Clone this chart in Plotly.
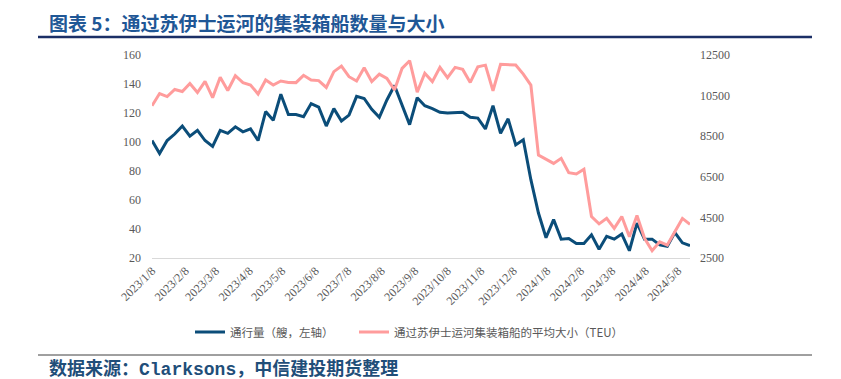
import pandas as pd
import plotly.graph_objects as go

# ---------------- data ----------------
WEEK_START = "2023-01-08"          # weekly observations (Sundays)
TRANSITS = [101, 92, 101, 105.5, 111, 104, 108, 101, 97, 108, 106, 110.5, 107, 109, 101, 121, 115, 133,
            119, 119, 117.5, 126.5, 124, 111, 123, 114.5, 118.5, 131.5, 130, 122.5, 117, 129, 139, 125, 112, 130.5,
            125, 123, 120.5, 120, 120, 120.5, 117, 116.5, 109, 125, 106, 116, 98, 101.5, 74, 51, 34, 46.5,
            33, 33.5, 30, 30, 36, 26, 35, 33, 36.5, 25, 44, 33, 33, 29, 28, 37.5, 30.5, 28.5]
AVG_TEU = [10000, 10600, 10450, 10800, 10700, 11100, 10650, 11200, 10400, 11400, 10750, 11480, 11140, 11020,
           10580, 11270, 11020, 11220,
           11150, 11140, 11500, 11270, 11240, 10900, 11680, 11950, 11430, 11220, 11870, 11190, 11560, 11350,
           10780, 11840, 12220, 10670,
           11600, 11190, 11890, 11380, 11890, 11790, 11150, 11920, 12000, 10740, 12040, 12010, 12010, 11560,
           11020, 7570, 7360, 7160,
           7410, 6700, 6640, 6870, 4540, 4180, 4450, 3960, 4540, 3550, 4590, 3470, 2860, 3300, 3140, 3800,
           4450, 4160]
X_TICK_LABELS = ["2023/1/8", "2023/2/8", "2023/3/8", "2023/4/8", "2023/5/8", "2023/6/8", "2023/7/8",
                 "2023/8/8", "2023/9/8", "2023/10/8", "2023/11/8", "2023/12/8", "2024/1/8", "2024/2/8",
                 "2024/3/8", "2024/4/8", "2024/5/8"]
LEFT_TICKS = [20, 40, 60, 80, 100, 120, 140, 160]
RIGHT_TICKS = [2500, 4500, 6500, 8500, 10500, 12500]

NAME_TRANSITS = "通行量（艘，左轴）"
NAME_TEU = "通过苏伊士运河集装箱船的平均大小（TEU）"
TITLE = "图表 5：通过苏伊士运河的集装箱船数量与大小"
SOURCE = "数据来源：Clarksons，中信建投期货整理"

dates = pd.date_range(WEEK_START, periods=len(TRANSITS), freq="7D")
tickvals = pd.to_datetime(X_TICK_LABELS, format="%Y/%m/%d")

BLUE = "#0B4D79"
PINK = "#FF9C9C"
GRAY = "#595959"
TICK_FONT = dict(family="Liberation Serif, Times New Roman, serif", size=12, color=GRAY)

W, H = 841, 379
ML, MR, MT, MB = 152, W - 690, 55, H - 258
PW, PH = W - ML - MR, H - MT - MB


def px(xs):   # screen x -> paper x
    return (xs - ML) / PW


def py(ys):   # screen y -> paper y
    return (H - MB - ys) / PH


fig = go.Figure()
fig.add_trace(go.Scatter(x=dates, y=TRANSITS, name=NAME_TRANSITS, mode="lines",
                         line=dict(color=BLUE, width=3), yaxis="y", legend="legend"))
fig.add_trace(go.Scatter(x=dates, y=AVG_TEU, name=NAME_TEU, mode="lines",
                         line=dict(color=PINK, width=3), yaxis="y2", legend="legend2"))

LEG_FONT = dict(family="Noto Sans CJK SC", size=11.5, color=GRAY)
leg_common = dict(orientation="h", xref="paper", yref="paper", xanchor="left",
                  yanchor="middle", y=py(332), font=LEG_FONT, itemwidth=30,
                  bgcolor="rgba(0,0,0,0)")

fig.update_layout(
    width=W, height=H,
    margin=dict(l=ML, r=MR, t=MT, b=MB, autoexpand=False),
    paper_bgcolor="white", plot_bgcolor="white",
    showlegend=True,
    legend=dict(x=px(190), **leg_common),
    legend2=dict(x=px(354), **leg_common),
    xaxis=dict(type="date", range=[dates[0], dates[-1]], tickvals=tickvals, ticktext=X_TICK_LABELS,
               tickangle=-45, tickfont=TICK_FONT, showgrid=False, zeroline=False, automargin=False,
               showline=True, linecolor="#D9D9D9", linewidth=1, ticks=""),
    yaxis=dict(range=[20, 160], tickvals=LEFT_TICKS, tickfont=TICK_FONT, showgrid=False, automargin=False,
               zeroline=False, showline=False, ticks="", ticklabelstandoff=10),
    yaxis2=dict(range=[2500, 12500], tickvals=RIGHT_TICKS, tickformat="d", tickfont=TICK_FONT,
                overlaying="y", side="right", showgrid=False, zeroline=False, showline=False,
                automargin=False, ticks="", ticklabelstandoff=9),
    font=dict(family="Noto Sans CJK SC"),
)

# title, rules and source note (positions given in screen pixels)
fig.add_annotation(text="<b>" + TITLE + "</b>", xref="paper", yref="paper",
                   x=px(47), y=py(22), xanchor="left", yanchor="middle", showarrow=False,
                   font=dict(family="Noto Sans CJK SC", size=19, color="#1F5796"))
fig.add_shape(type="line", xref="paper", yref="paper", x0=px(38), x1=px(812), y0=py(37), y1=py(37),
              line=dict(color="#1B2F66", width=2.5))
fig.add_shape(type="line", xref="paper", yref="paper", x0=px(38), x1=px(812), y0=py(355), y1=py(355),
              line=dict(color="#404040", width=1))
fig.add_annotation(text="<b>" + SOURCE + "</b>", xref="paper", yref="paper",
                   x=px(47), y=py(369), xanchor="left", yanchor="middle", showarrow=False,
                   font=dict(family="Liberation Mono, Noto Sans CJK SC", size=18, color="#1F4E79"))

fig.write_html("out.html", config={"displayModeBar": False},
               post_script="document.body.style.margin='0';document.body.style.overflow='hidden';")
